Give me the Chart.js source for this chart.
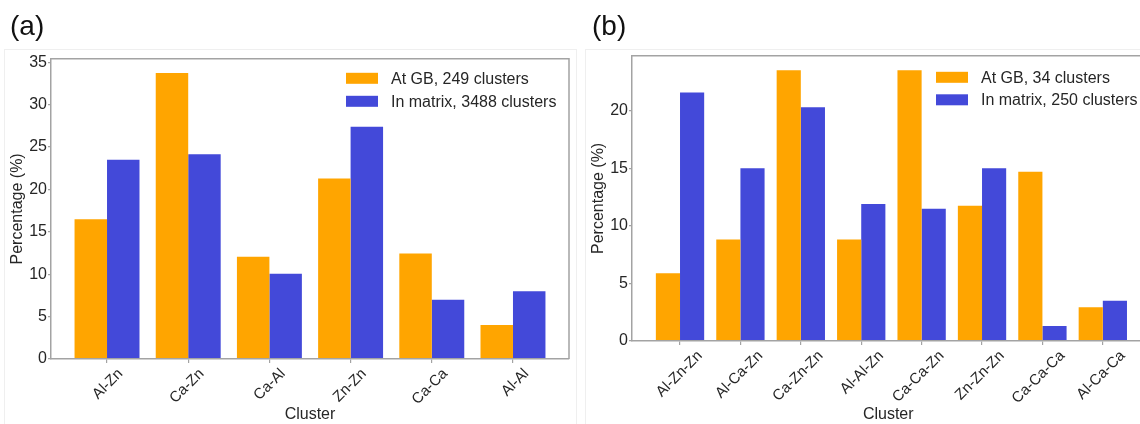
<!DOCTYPE html>
<html>
<head>
<meta charset="utf-8">
<script src="https://cdn.jsdelivr.net/npm/chart.js@4.4.1/dist/chart.umd.min.js"></script>
<style>
  html, body { margin: 0; padding: 0; background: #fff; width: 1140px; height: 424px; overflow: hidden; position: relative; }
  .frame { position: absolute; border: 1px solid #efefef; box-sizing: border-box; }
  .holder { position: absolute; top: 0; height: 424px; }
  canvas { display: block; }
</style>
</head>
<body>
<div class="frame" style="left:4px; top:49px; width:573px; height:390px;"></div>
<div class="frame" style="left:585px; top:49px; width:600px; height:390px;"></div>
<div class="holder" style="left:0; width:580px;"><canvas id="panelA" width="580" height="424"></canvas></div>
<div class="holder" style="left:586px; width:574px;"><canvas id="panelB" width="574" height="424"></canvas></div>
<script>
// Panel (a): pair clusters
const clustersA = ['Al-Zn', 'Ca-Zn', 'Ca-Al', 'Zn-Zn', 'Ca-Ca', 'Al-Al'];
const atGbA = [16.47, 33.73, 12.05, 21.29, 12.45, 4.02];
const inMatrixA = [23.5, 24.15, 10.05, 27.4, 7.0, 8.0];
const yTicksA = [0, 5, 10, 15, 20, 25, 30, 35];
const seriesNamesA = ['At GB, 249 clusters', 'In matrix, 3488 clusters'];

// Panel (b): triplet clusters
const clustersB = ['Al-Zn-Zn', 'Al-Ca-Zn', 'Ca-Zn-Zn', 'Al-Al-Zn', 'Ca-Ca-Zn', 'Zn-Zn-Zn', 'Ca-Ca-Ca', 'Al-Ca-Ca'];
const atGbB = [5.88, 8.82, 23.53, 8.82, 23.53, 11.76, 14.71, 2.94];
const inMatrixB = [21.6, 15.0, 20.3, 11.9, 11.5, 15.0, 1.3, 3.5];
const yTicksB = [0, 5, 10, 15, 20];
const seriesNamesB = ['At GB, 34 clusters', 'In matrix, 250 clusters'];

const FONT = "'Liberation Sans', Arial, Helvetica, sans-serif";
const ORANGE = 'rgb(255,165,0)';
const BLUE = 'rgb(67,73,217)';
const AXIS = '#a3a3a3';
const TEXT = '#262626';

Chart.defaults.font.family = FONT;
Chart.defaults.color = TEXT;

// Legend drawn inside the plot area, upper right
const boxLegend = {
  id: 'boxLegend',
  afterDatasetsDraw(chart, args, opts) {
    const { ctx, chartArea } = chart;
    ctx.save();
    ctx.font = opts.fontSize + 'px ' + FONT;
    ctx.textBaseline = 'middle';
    ctx.textAlign = 'left';
    chart.data.datasets.forEach((ds, i) => {
      const x = chartArea.right - opts.right;
      const y = chartArea.top + opts.top + i * opts.rowGap;
      ctx.fillStyle = ds.backgroundColor;
      ctx.fillRect(x, y, opts.boxWidth, opts.boxHeight);
      ctx.fillStyle = TEXT;
      ctx.fillText(ds.label, x + opts.boxWidth + opts.gap, y + opts.boxHeight / 2 + 1);
    });
    ctx.restore();
  }
};

// Top and right edges of the axes box
const plotFrame = {
  id: 'plotFrame',
  afterDraw(chart, args, opts) {
    const { ctx, chartArea: a } = chart;
    ctx.save();
    ctx.strokeStyle = AXIS;
    ctx.lineWidth = 1.5;
    ctx.beginPath();
    ctx.moveTo(a.left, a.top);
    ctx.lineTo(a.right, a.top);
    ctx.lineTo(a.right, a.bottom);
    ctx.stroke();
    ctx.restore();
  }
};

function makePanel(id, letter, cats, gb, matrix, yTicks, names, lay) {
  const toPoints = vals => cats.map((c, i) => ({ x: i, y: vals[i] }));
  return new Chart(document.getElementById(id), {
    type: 'bar',
    data: {
      datasets: [
        { label: names[0], data: toPoints(gb), backgroundColor: ORANGE },
        { label: names[1], data: toPoints(matrix), backgroundColor: BLUE }
      ]
    },
    options: {
      responsive: false,
      animation: false,
      devicePixelRatio: 1,
      categoryPercentage: 0.8,
      barPercentage: 1.0,
      borderWidth: 0,
      layout: { padding: { left: lay.padLeft, right: lay.padRight, top: 0, bottom: 0 } },
      plugins: {
        legend: { display: false },
        tooltip: { enabled: false },
        title: {
          display: true,
          text: letter,
          align: 'start',
          color: '#111',
          font: { size: 28, weight: 'normal', family: FONT },
          padding: { top: 10, bottom: lay.titleBottom }
        },
        boxLegend: { right: lay.legendRight, top: lay.legendTop, rowGap: lay.legendGap, boxWidth: 32, boxHeight: 11, gap: 13, fontSize: 16 },
        plotFrame: {}
      },
      scales: {
        x: {
          type: 'linear',
          offset: false,
          bounds: 'data',
          min: lay.xMin,
          max: lay.xMax,
          afterBuildTicks: s => { s.ticks = cats.map((c, i) => ({ value: i })); },
          afterFit: s => { s.height = lay.xAxisHeight; },
          ticks: {
            callback: v => cats[v],
            autoSkip: false,
            minRotation: 45,
            maxRotation: 45,
            labelOffset: lay.labelOffset,
            padding: 2,
            color: TEXT,
            font: { size: 15 }
          },
          grid: { offset: false, drawOnChartArea: false, drawTicks: true, tickLength: 4, color: AXIS, lineWidth: 1.2 },
          border: { display: true, color: AXIS, width: 1.5, z: 1 },
          title: { display: true, text: 'Cluster', color: TEXT, font: { size: 16 }, padding: { top: 0, bottom: 0 } }
        },
        y: {
          type: 'linear',
          bounds: 'data',
          min: 0,
          max: lay.yMax,
          afterBuildTicks: s => { s.ticks = yTicks.map(v => ({ value: v })); },
          afterFit: s => { s.width = lay.yAxisWidth; },
          ticks: { padding: 1, color: TEXT, font: { size: 16 } },
          grid: { drawOnChartArea: false, drawTicks: true, tickLength: 3, color: AXIS, lineWidth: 1.2 },
          border: { display: true, color: AXIS, width: 1.5, z: 1 },
          title: { display: true, text: 'Percentage (%)', color: TEXT, font: { size: 16 }, padding: { top: lay.yTitlePad, bottom: 0 } }
        }
      }
    },
    plugins: [boxLegend, plotFrame]
  });
}

makePanel('panelA', '(a)', clustersA, atGbA, inMatrixA, yTicksA, seriesNamesA, {
  padLeft: 10, padRight: 11, titleBottom: 15.2, yAxisWidth: 41, xAxisHeight: 65,
  xMin: -0.69, xMax: 5.69, yMax: 35.4, labelOffset: 13.5, yTitlePad: -2.1,
  legendRight: 223, legendTop: 14, legendGap: 23
});

makePanel('panelB', '(b)', clustersB, atGbB, inMatrixB, yTicksB, seriesNamesB, {
  padLeft: 6, padRight: 15.5, titleBottom: 12.2, yAxisWidth: 40, xAxisHeight: 83,
  xMin: -0.795, xMax: 7.69, yMax: 24.78, labelOffset: 20, yTitlePad: -3.1,
  legendRight: 208.5, legendTop: 16, legendGap: 22.5
});
</script>
</body>
</html>
